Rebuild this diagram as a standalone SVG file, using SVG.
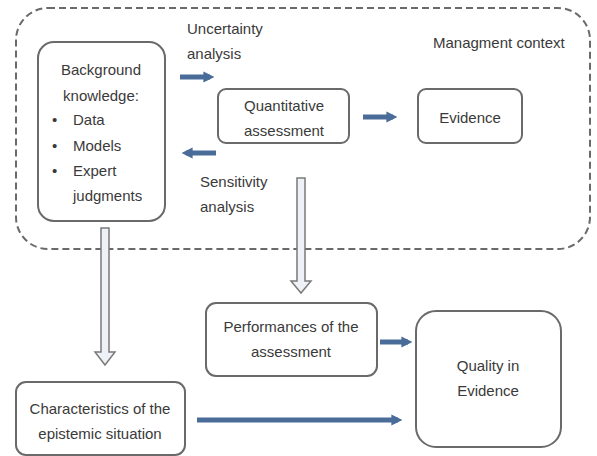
<svg xmlns="http://www.w3.org/2000/svg" width="597" height="456" viewBox="0 0 597 456">
<defs>
<style>
.box{fill:#ffffff;stroke:#6a6a6a;stroke-width:2}
.t{font-family:"Liberation Sans",Arial,sans-serif;font-size:15px;fill:#3a3a3a}
.c{text-anchor:middle}
.ctx{fill:none;stroke:#6a6a6a;stroke-width:2;stroke-dasharray:7,4}
.ba{stroke:#4a6c98;stroke-width:5;marker-end:url(#ah)}
.ha{fill:#eef2f6;stroke:#7a7a7a;stroke-width:1.5}
</style>
<marker id="ah" viewBox="0 0 10 10" refX="6" refY="5" markerWidth="2.2" markerHeight="2.4" orient="auto" markerUnits="strokeWidth">
<path d="M0,0 L10,5 L0,10 Z" fill="#4a6c98"/>
</marker>
</defs>
<rect width="597" height="456" fill="#ffffff"/>
<g id="context">
<rect class="ctx" x="16" y="8" width="574" height="241" rx="32"/>
<text class="t" x="433" y="48">Managment context</text>
</g>
<g id="connectors">
<line class="ba" x1="180" y1="77" x2="210" y2="77"/>
<line class="ba" x1="216" y1="153" x2="186" y2="153"/>
<line class="ba" x1="363" y1="117" x2="393" y2="117"/>
<line class="ba" x1="380" y1="342" x2="408" y2="342"/>
<line class="ba" x1="197" y1="420" x2="398" y2="420"/>
<polygon class="ha" points="101,228 109,228 109,352 115,352 105,365 95,352 101,352"/>
<polygon class="ha" points="297,178 305,178 305,281 311,281 301,293 291,281 297,281"/>
<text class="t" x="187" y="34">Uncertainty</text>
<text class="t" x="187" y="59">analysis</text>
<text class="t" x="200" y="187">Sensitivity</text>
<text class="t" x="200" y="212">analysis</text>
</g>
<g id="background">
<rect class="box" x="38" y="42" width="127" height="179" rx="16"/>
<text class="t c" x="101" y="75">Background</text>
<text class="t c" x="101" y="101">knowledge:</text>
<text class="t" x="52" y="125">•</text>
<text class="t" x="73" y="125">Data</text>
<text class="t" x="52" y="151">•</text>
<text class="t" x="73" y="151">Models</text>
<text class="t" x="52" y="176">•</text>
<text class="t" x="73" y="176">Expert</text>
<text class="t" x="73" y="201">judgments</text>
</g>
<g id="quantitative">
<rect class="box" x="218" y="89" width="131" height="54" rx="8"/>
<text class="t c" x="284" y="111">Quantitative</text>
<text class="t c" x="284" y="136">assessment</text>
</g>
<g id="evidence">
<rect class="box" x="418" y="89" width="104" height="54" rx="8"/>
<text class="t c" x="470" y="123">Evidence</text>
</g>
<g id="performances">
<rect class="box" x="206" y="303" width="171" height="73" rx="10"/>
<text class="t c" x="291" y="332">Performances of the</text>
<text class="t c" x="291" y="357">assessment</text>
</g>
<g id="quality">
<rect class="box" x="416" y="311" width="145" height="136" rx="20"/>
<text class="t c" x="488" y="371">Quality in</text>
<text class="t c" x="488" y="396">Evidence</text>
</g>
<g id="characteristics">
<rect class="box" x="16" y="382" width="169" height="73" rx="10"/>
<text class="t c" x="100" y="414">Characteristics of the</text>
<text class="t c" x="100" y="439">epistemic situation</text>
</g>
</svg>
